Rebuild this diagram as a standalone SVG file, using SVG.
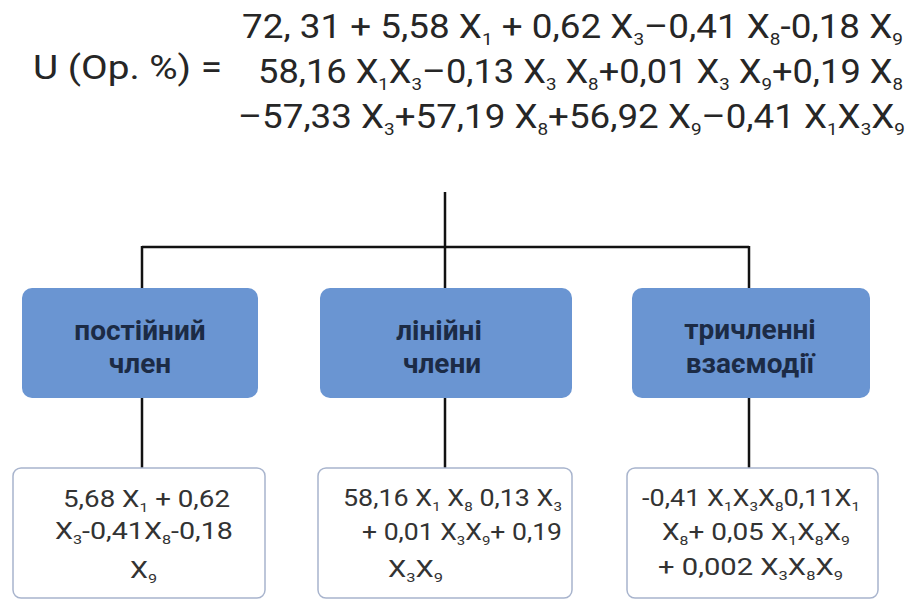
<svg xmlns="http://www.w3.org/2000/svg" width="913" height="602" viewBox="0 0 913 602">
<style>
.eq{font-family:Roboto,"Liberation Sans",sans-serif;font-size:33px;fill:#262626}
.sub{font-size:17px}
.head{font-family:Roboto,"Liberation Sans",sans-serif;font-size:28px;font-weight:bold;fill:#1c2b45;text-anchor:middle}
.bt{font-family:Roboto,"Liberation Sans",sans-serif;font-size:23px;fill:#333}
.bsub{font-size:13px}
.blue{fill:#6a95d2}
.white{fill:#fff;stroke:#a8b4cd;stroke-width:1.5}
.conn{stroke:#111;stroke-width:2.5;fill:none}
</style>
<rect width="913" height="602" fill="#fff"/>
<g id="formula">
<text class="eq" x="33" y="79" textLength="189" lengthAdjust="spacingAndGlyphs">U (Op. %) =</text>
<text class="eq" x="242" y="38" textLength="661" lengthAdjust="spacingAndGlyphs">72, 31 + 5,58 X<tspan class="sub" dy="7">1</tspan><tspan dy="-7"> + 0,62 X</tspan><tspan class="sub" dy="7">3</tspan><tspan dy="-7">–0,41 X</tspan><tspan class="sub" dy="7">8</tspan><tspan dy="-7">-0,18 X</tspan><tspan class="sub" dy="7">9</tspan></text>
<text class="eq" x="258" y="83" textLength="645" lengthAdjust="spacingAndGlyphs">58,16 X<tspan class="sub" dy="7">1</tspan><tspan dy="-7">X</tspan><tspan class="sub" dy="7">3</tspan><tspan dy="-7">–0,13 X</tspan><tspan class="sub" dy="7">3</tspan><tspan dy="-7"> X</tspan><tspan class="sub" dy="7">8</tspan><tspan dy="-7">+0,01 X</tspan><tspan class="sub" dy="7">3</tspan><tspan dy="-7"> X</tspan><tspan class="sub" dy="7">9</tspan><tspan dy="-7">+0,19 X</tspan><tspan class="sub" dy="7">8</tspan></text>
<text class="eq" x="238" y="128" textLength="667" lengthAdjust="spacingAndGlyphs">–57,33 X<tspan class="sub" dy="7">3</tspan><tspan dy="-7">+57,19 X</tspan><tspan class="sub" dy="7">8</tspan><tspan dy="-7">+56,92 X</tspan><tspan class="sub" dy="7">9</tspan><tspan dy="-7">–0,41 X</tspan><tspan class="sub" dy="7">1</tspan><tspan dy="-7">X</tspan><tspan class="sub" dy="7">3</tspan><tspan dy="-7">X</tspan><tspan class="sub" dy="7">9</tspan></text>
</g>
<g id="connectors">
<path class="conn" d="M445 192V288M142 247H749M142 246V288M749 246V288"/>
<path class="conn" d="M142 398V468M445 398V468M749 398V468"/>
</g>
<g id="node-const">
<rect class="blue" x="22" y="288" width="236" height="110" rx="10"/>
<text class="head" x="140" y="340">постійний</text>
<text class="head" x="140" y="373">член</text>
</g>
<g id="node-linear">
<rect class="blue" x="320" y="288" width="252" height="110" rx="10"/>
<text class="head" x="439" y="340">лінійні</text>
<text class="head" x="442" y="373">члени</text>
</g>
<g id="node-triple">
<rect class="blue" x="632" y="288" width="238" height="110" rx="10"/>
<text class="head" x="750" y="339">тричленні</text>
<text class="head" x="750" y="373">взаємодії</text>
</g>
<g id="box-const">
<rect class="white" x="13" y="468" width="252" height="130" rx="8"/>
<text class="bt" x="63" y="507" textLength="167" lengthAdjust="spacingAndGlyphs">5,68 X<tspan class="bsub" dy="5">1</tspan><tspan dy="-5"> + 0,62</tspan></text>
<text class="bt" x="55" y="539" textLength="178" lengthAdjust="spacingAndGlyphs">X<tspan class="bsub" dy="5">3</tspan><tspan dy="-5">-0,41X</tspan><tspan class="bsub" dy="5">8</tspan><tspan dy="-5">-0,18</tspan></text>
<text class="bt" x="130" y="578" textLength="27" lengthAdjust="spacingAndGlyphs">X<tspan class="bsub" dy="5">9</tspan></text>
</g>
<g id="box-linear">
<rect class="white" x="318" y="468" width="254" height="130" rx="8"/>
<text class="bt" x="343" y="506" textLength="219" lengthAdjust="spacingAndGlyphs">58,16 X<tspan class="bsub" dy="5">1</tspan><tspan dy="-5"> X</tspan><tspan class="bsub" dy="5">8</tspan><tspan dy="-5"> 0,13 X</tspan><tspan class="bsub" dy="5">3</tspan></text>
<text class="bt" x="362" y="540" textLength="200" lengthAdjust="spacingAndGlyphs">+ 0,01 X<tspan class="bsub" dy="5">3</tspan><tspan dy="-5">X</tspan><tspan class="bsub" dy="5">9</tspan><tspan dy="-5">+ 0,19</tspan></text>
<text class="bt" x="388" y="577" textLength="55" lengthAdjust="spacingAndGlyphs">X<tspan class="bsub" dy="5">3</tspan><tspan dy="-5">X</tspan><tspan class="bsub" dy="5">9</tspan></text>
</g>
<g id="box-triple">
<rect class="white" x="627" y="468" width="251" height="130" rx="8"/>
<text class="bt" x="642" y="506" textLength="218" lengthAdjust="spacingAndGlyphs">-0,41 X<tspan class="bsub" dy="5">1</tspan><tspan dy="-5">X</tspan><tspan class="bsub" dy="5">3</tspan><tspan dy="-5">X</tspan><tspan class="bsub" dy="5">8</tspan><tspan dy="-5">0,11X</tspan><tspan class="bsub" dy="5">1</tspan></text>
<text class="bt" x="662" y="540" textLength="188" lengthAdjust="spacingAndGlyphs">X<tspan class="bsub" dy="5">8</tspan><tspan dy="-5">+ 0,05 X</tspan><tspan class="bsub" dy="5">1</tspan><tspan dy="-5">X</tspan><tspan class="bsub" dy="5">8</tspan><tspan dy="-5">X</tspan><tspan class="bsub" dy="5">9</tspan></text>
<text class="bt" x="658" y="575" textLength="185" lengthAdjust="spacingAndGlyphs">+ 0,002 X<tspan class="bsub" dy="5">3</tspan><tspan dy="-5">X</tspan><tspan class="bsub" dy="5">8</tspan><tspan dy="-5">X</tspan><tspan class="bsub" dy="5">9</tspan></text>
</g>
</svg>
